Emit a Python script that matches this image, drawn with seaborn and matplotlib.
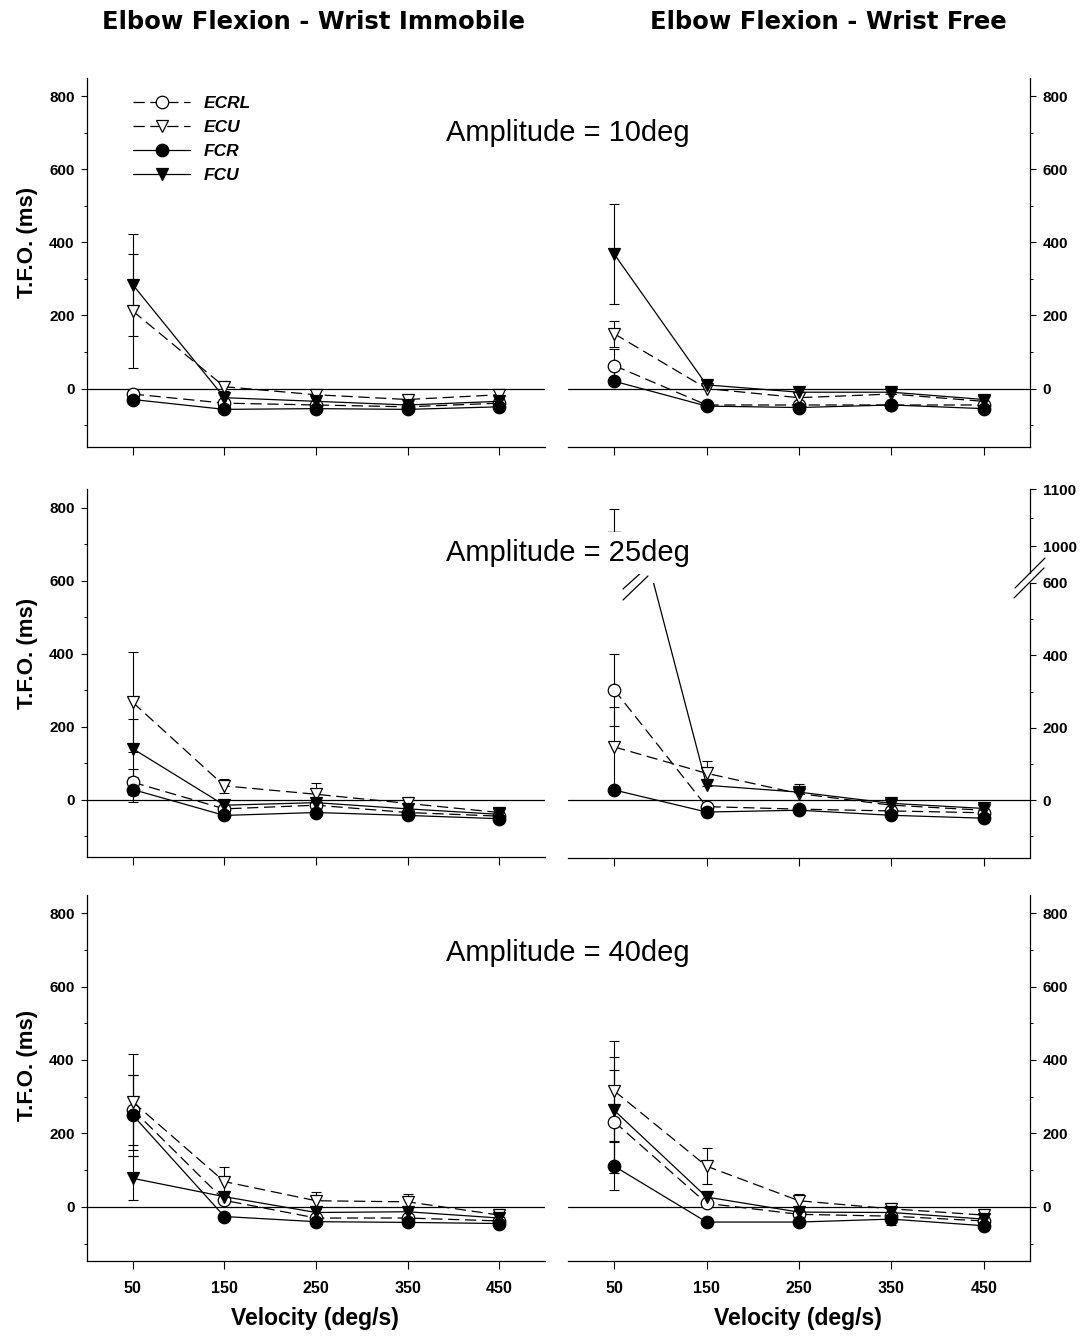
import numpy as np
import pandas as pd
import matplotlib
matplotlib.use("Agg")
import matplotlib.pyplot as plt
import seaborn as sns
from matplotlib.lines import Line2D
from matplotlib.ticker import FixedLocator
from matplotlib.font_manager import FontProperties

nan = np.nan

# ---------------- data ----------------
velocity = [50, 150, 250, 350, 450]
velocity_labels = ["50", "150", "250", "350", "450"]
muscles = ["ECRL", "ECU", "FCR", "FCU"]

# Amplitude 10 deg, wrist immobile
a10_imm_ECRL = [-15, -40, -45, -50, -40]
a10_imm_ECU = [212, 5, -17, -30, -17]
a10_imm_FCR = [-30, -57, -55, -57, -50]
a10_imm_FCU = [284, -25, -35, -45, -35]
a10_imm_ECRL_se = [nan, nan, nan, nan, nan]
a10_imm_ECU_se = [156, 12, 10, 10, 10]
a10_imm_FCR_se = [nan, nan, nan, nan, nan]
a10_imm_FCU_se = [139, nan, nan, nan, nan]

# Amplitude 10 deg, wrist free
a10_free_ECRL = [63, -45, -45, -45, -45]
a10_free_ECU = [150, 0, -25, -15, -35]
a10_free_FCR = [20, -48, -52, -45, -55]
a10_free_FCU = [368, 10, -10, -10, -30]
a10_free_ECRL_se = [46, nan, nan, nan, nan]
a10_free_ECU_se = [35, nan, nan, nan, nan]
a10_free_FCR_se = [nan, nan, nan, nan, nan]
a10_free_FCU_se = [136, nan, nan, nan, nan]

# Amplitude 25 deg, wrist immobile
a25_imm_ECRL = [48, -25, -15, -35, -45]
a25_imm_ECU = [267, 38, 15, -10, -35]
a25_imm_FCR = [28, -43, -35, -43, -52]
a25_imm_FCU = [140, -15, -8, -25, -40]
a25_imm_ECRL_se = [35, nan, nan, nan, nan]
a25_imm_ECU_se = [137, 20, 30, 10, nan]
a25_imm_FCR_se = [35, nan, nan, nan, nan]
a25_imm_FCU_se = [82, nan, nan, nan, nan]

# Amplitude 25 deg, wrist free
a25_free_ECRL = [305, -18, -25, -30, -35]
a25_free_ECU = [147, 74, 18, -14, -28]
a25_free_FCR = [28, -33, -28, -42, -50]
a25_free_FCU = [1015, 41, 22, -9, -23]
a25_free_ECRL_se = [100, nan, nan, nan, nan]
a25_free_ECU_se = [110, 34, nan, nan, nan]
a25_free_FCR_se = [nan, nan, nan, nan, nan]
a25_free_FCU_se = [50, nan, 22, nan, nan]

# Amplitude 40 deg, wrist immobile
a40_imm_ECRL = [265, 18, -30, -30, -38]
a40_imm_ECU = [286, 69, 17, 14, -22]
a40_imm_FCR = [250, -26, -40, -42, -45]
a40_imm_FCU = [78, 28, -15, -13, -30]
a40_imm_ECRL_se = [95, nan, nan, nan, nan]
a40_imm_ECU_se = [130, 41, 23, 22, nan]
a40_imm_FCR_se = [110, nan, nan, nan, nan]
a40_imm_FCU_se = [60, nan, nan, nan, nan]

# Amplitude 40 deg, wrist free
a40_free_ECRL = [232, 10, -20, -25, -38]
a40_free_ECU = [316, 111, 17, -5, -22]
a40_free_FCR = [111, -41, -41, -33, -51]
a40_free_FCU = [263, 27, -14, -15, -33]
a40_free_ECRL_se = [140, nan, nan, nan, nan]
a40_free_ECU_se = [136, 49, 17, 15, nan]
a40_free_FCR_se = [65, nan, nan, 15, nan]
a40_free_FCU_se = [145, nan, nan, nan, nan]

column_titles = ["Elbow Flexion - Wrist Immobile", "Elbow Flexion - Wrist Free"]
amplitude_labels = ["Amplitude = 10deg", "Amplitude = 25deg", "Amplitude = 40deg"]
y_label = "T.F.O. (ms)"
x_label = "Velocity (deg/s)"

# ---------------- style ----------------
sns.set_theme(style="ticks")
plt.rcParams["font.family"] = ["Liberation Sans", "DejaVu Sans"]
plt.rcParams["axes.linewidth"] = 0.9
for k in ["text.color", "axes.labelcolor", "xtick.color", "ytick.color", "axes.edgecolor"]:
    plt.rcParams[k] = "black"

W, H = 1091, 1338
fig = plt.figure(figsize=(W / 100, H / 100), dpi=100)
fig.patch.set_facecolor("white")


def rect(x0, x1, y0, y1):
    return [x0 / W, 1 - y1 / H, (x1 - x0) / W, (y1 - y0) / H]


DASH = (0, (9, 4.5))
styles = {
    "ECRL": dict(ls=DASH, marker="o", mfc="white"),
    "ECU": dict(ls=DASH, marker="v", mfc="white"),
    "FCR": dict(ls="-", marker="o", mfc="black"),
    "FCU": dict(ls="-", marker="v", mfc="black"),
}

tick_font = dict(family=["Liberation Sans", "DejaVu Sans"], weight="bold", size=11)
xtick_font = dict(family=["Liberation Sans Narrow", "Liberation Sans", "DejaVu Sans"],
                  weight="bold", size=11.5)


def style_axis(ax, side, ylim, majors, minors, xlabels):
    ax.set_facecolor("none")
    ax.set_xlim(0, 500)
    ax.set_ylim(*ylim)
    ax.spines["top"].set_visible(False)
    if side == "left":
        ax.spines["right"].set_visible(False)
        ax.yaxis.tick_left()
    else:
        ax.spines["left"].set_visible(False)
        ax.yaxis.tick_right()
    for s in ax.spines.values():
        s.set_color("black")
        s.set_linewidth(0.9)
    ax.set_xticks(velocity)
    if xlabels:
        ax.set_xticklabels(velocity_labels, fontdict=xtick_font)
    else:
        ax.set_xticklabels([])
    ax.yaxis.set_major_locator(FixedLocator(majors))
    ax.yaxis.set_minor_locator(FixedLocator(minors))
    ax.set_yticklabels([str(v) for v in majors], fontdict=tick_font)
    ax.tick_params(axis="x", which="major", direction="out", length=5.5, width=0.8,
                   pad=9, colors="black")
    ax.tick_params(axis="y", which="major", direction="out", length=4, width=0.8,
                   pad=5, colors="black")
    ax.tick_params(axis="y", which="minor", direction="out", length=2.5, width=0.7,
                   colors="black")


def draw_series(ax, values, errs, muscle, label=None):
    st = styles[muscle]
    df = pd.DataFrame({"velocity": velocity, "tfo": values})
    sns.lineplot(data=df, x="velocity", y="tfo", ax=ax, color="black",
                 linestyle=st["ls"], linewidth=0.9, marker=st["marker"],
                 markersize=9, markerfacecolor=st["mfc"], markeredgecolor="black",
                 markeredgewidth=0.9, estimator=None, errorbar=None, sort=False,
                 label=label, legend=False, zorder=3)
    e = np.array(errs, dtype=float)
    v = np.array(values, dtype=float)
    x = np.array(velocity, dtype=float)
    m = ~np.isnan(e)
    if m.any():
        ax.errorbar(x[m], v[m], yerr=e[m], fmt="none", ecolor="black",
                    elinewidth=0.8, capsize=3.5, capthick=0.8, zorder=2)


panels = {
    (0, 0): (dict(ECRL=a10_imm_ECRL, ECU=a10_imm_ECU, FCR=a10_imm_FCR, FCU=a10_imm_FCU),
             dict(ECRL=a10_imm_ECRL_se, ECU=a10_imm_ECU_se, FCR=a10_imm_FCR_se, FCU=a10_imm_FCU_se)),
    (0, 1): (dict(ECRL=a10_free_ECRL, ECU=a10_free_ECU, FCR=a10_free_FCR, FCU=a10_free_FCU),
             dict(ECRL=a10_free_ECRL_se, ECU=a10_free_ECU_se, FCR=a10_free_FCR_se, FCU=a10_free_FCU_se)),
    (1, 0): (dict(ECRL=a25_imm_ECRL, ECU=a25_imm_ECU, FCR=a25_imm_FCR, FCU=a25_imm_FCU),
             dict(ECRL=a25_imm_ECRL_se, ECU=a25_imm_ECU_se, FCR=a25_imm_FCR_se, FCU=a25_imm_FCU_se)),
    (1, 1): (dict(ECRL=a25_free_ECRL, ECU=a25_free_ECU, FCR=a25_free_FCR, FCU=a25_free_FCU),
             dict(ECRL=a25_free_ECRL_se, ECU=a25_free_ECU_se, FCR=a25_free_FCR_se, FCU=a25_free_FCU_se)),
    (2, 0): (dict(ECRL=a40_imm_ECRL, ECU=a40_imm_ECU, FCR=a40_imm_FCR, FCU=a40_imm_FCU),
             dict(ECRL=a40_imm_ECRL_se, ECU=a40_imm_ECU_se, FCR=a40_imm_FCR_se, FCU=a40_imm_FCU_se)),
    (2, 1): (dict(ECRL=a40_free_ECRL, ECU=a40_free_ECU, FCR=a40_free_FCR, FCU=a40_free_FCU),
             dict(ECRL=a40_free_ECRL_se, ECU=a40_free_ECU_se, FCR=a40_free_FCR_se, FCU=a40_free_FCU_se)),
}

cols_px = [(87, 545), (568, 1030)]
rows_px = [(78, 447, (-160, 850)), (489, 857, (-157, 852)), (895, 1261, (-147, 849))]
majors = [0, 200, 400, 600, 800]
minors = [-100, 100, 300, 500, 700]

axes = {}
all_axes = []
for r in range(3):
    for c in range(2):
        x0, x1 = cols_px[c]
        y0, y1, ylim = rows_px[r]
        side = "left" if c == 0 else "right"
        vals, errs = panels[(r, c)]
        if (r, c) == (1, 1):
            # broken y axis: lower part up to 600, upper part 953-1100
            ax = fig.add_axes(rect(x0, x1, 583, 858))
            ax.axhline(0, color="black", lw=0.9, zorder=1)
            for m in muscles:
                e = list(errs[m])
                if m == "FCU":
                    e[0] = nan
                draw_series(ax, vals[m], e, m)
            style_axis(ax, side, (-160, 600), [0, 200, 400, 600], [-100, 100, 300, 500], False)
            axu = fig.add_axes(rect(x0, x1, 489, 573))
            fcu_df = pd.DataFrame({"velocity": velocity[:1], "tfo": vals["FCU"][:1]})
            sns.scatterplot(data=fcu_df, x="velocity", y="tfo", ax=axu, color="black",
                            marker="v", s=81, edgecolor="black", zorder=3, legend=False)
            axu.errorbar(velocity[:1], vals["FCU"][:1], yerr=errs["FCU"][:1], fmt="none",
                         ecolor="black", elinewidth=0.8, capsize=3.5, capthick=0.8)
            axu.set_facecolor("none")
            axu.set_xlim(0, 500)
            axu.set_ylim(953, 1100)
            for s in ["top", "left", "bottom"]:
                axu.spines[s].set_visible(False)
            axu.spines["right"].set_color("black")
            axu.spines["right"].set_linewidth(0.9)
            axu.yaxis.tick_right()
            axu.tick_params(axis="x", bottom=False, labelbottom=False)
            axu.yaxis.set_major_locator(FixedLocator([1000, 1100]))
            axu.yaxis.set_minor_locator(FixedLocator([1050]))
            axu.set_yticklabels(["1000", "1100"], fontdict=tick_font)
            axu.tick_params(axis="y", which="major", direction="out", length=4, width=0.8,
                            pad=5, colors="black")
            axu.tick_params(axis="y", which="minor", direction="out", length=2.5, width=0.7,
                            colors="black")
            all_axes.append(axu)
        else:
            ax = fig.add_axes(rect(x0, x1, y0, y1))
            ax.axhline(0, color="black", lw=0.9, zorder=1)
            for m in muscles:
                draw_series(ax, vals[m], errs[m], m,
                            label=m if (r, c) == (0, 0) else None)
            style_axis(ax, side, ylim, majors, minors, r == 2)
        axes[(r, c)] = ax
        all_axes.append(ax)

for a in all_axes:
    a.set_xlabel("")
    a.set_ylabel("")

# legend in the first panel
ax0 = axes[(0, 0)]
handles = []
for m in muscles:
    st = styles[m]
    handles.append(Line2D([0], [0], color="black", linestyle=st["ls"], linewidth=0.9,
                          marker=st["marker"], markersize=9, markerfacecolor=st["mfc"],
                          markeredgecolor="black", markeredgewidth=0.9))
leg = ax0.legend(handles, muscles, loc="upper left",
                 bbox_to_anchor=(133 / W, 1 - 96 / H), bbox_transform=fig.transFigure,
                 frameon=False, handlelength=3.3, handletextpad=0.8, labelspacing=0.5,
                 borderpad=0, borderaxespad=0, numpoints=1,
                 prop=FontProperties(family=["Liberation Sans", "DejaVu Sans"],
                                     weight="bold", style="italic", size=12.5))

# break marks on the broken axis
for (xa, ya, xb, yb) in [(623, 589, 643, 571), (623, 600, 648, 576),
                         (1015, 588, 1045, 558), (1014, 598, 1044, 568)]:
    fig.add_artist(Line2D([xa / W, xb / W], [1 - ya / H, 1 - yb / H],
                          color="black", lw=0.9, transform=fig.transFigure))

# texts
for x, t in zip([313, 828], column_titles):
    fig.text(x / W, 1 - 22 / H, t, ha="center", va="center",
             fontsize=17.5, fontweight="bold", family=["DejaVu Sans"])
for y, t in zip([133, 553, 953], amplitude_labels):
    fig.text(568 / W, 1 - y / H, t, ha="center", va="center", fontsize=21,
             family=["Liberation Sans", "DejaVu Sans"], zorder=10,
             bbox=dict(boxstyle="square,pad=0.25", fc="white", ec="none"))
for y in [242, 653, 1065]:
    fig.text(28 / W, 1 - y / H, y_label, ha="center", va="center", rotation=90,
             fontsize=16, fontweight="bold", family=["Liberation Sans", "DejaVu Sans"])
for x in [315, 798]:
    fig.text(x / W, 1 - 1318 / H, x_label, ha="center", va="center", fontsize=16.5,
             fontweight="bold",
             family=["Liberation Sans Narrow", "Liberation Sans", "DejaVu Sans"])

fig.savefig("out.png", dpi=100, facecolor="white")
